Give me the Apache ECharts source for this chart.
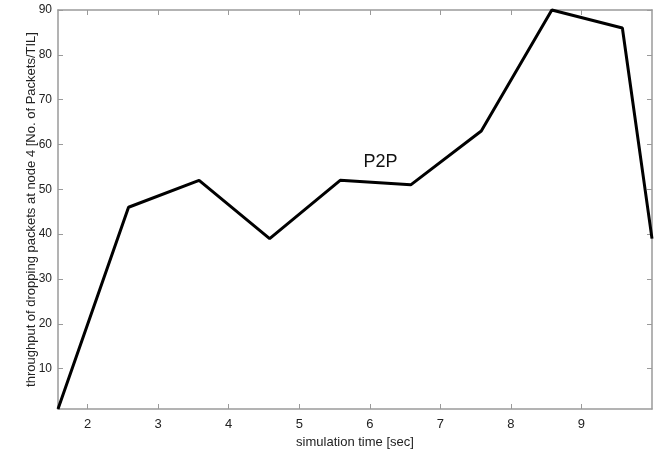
<!DOCTYPE html>
<html>
<head>
<meta charset="utf-8">
<style>
  html, body { margin: 0; padding: 0; background: #fff; }
  #chart { width: 664px; height: 454px; }
</style>
<script src="https://cdn.jsdelivr.net/npm/echarts@6/dist/echarts.min.js"></script>
</head>
<body>
<div id="chart"></div>
<script>
// data
const simTime = [1.58, 2.58, 3.58, 4.58, 5.58, 6.58, 7.58, 8.58, 9.58, 10];
const throughput = [1, 46, 52, 39, 52, 51, 63, 90, 86, 39];
const xTicks = [2, 3, 4, 5, 6, 7, 8, 9];
const yTicks = [10, 20, 30, 40, 50, 60, 70, 80, 90];

const axisColor = '#9a9a9a';
const textColor = '#222';
const font = 'Liberation Sans, Arial, sans-serif';

const chart = echarts.init(document.getElementById('chart'));

// shared look for the box axes
const boxAxis = (extra) => ({
    type: 'value',
    axisLine: { show: true, lineStyle: { color: axisColor, width: 1.5 } },
    axisTick: { show: true, inside: true, length: 5, lineStyle: { color: axisColor } },
    splitLine: { show: false },
    ...extra
});

chart.setOption({
    animation: false,
    textStyle: { fontFamily: font },
    grid: { left: 58, right: 12, top: 10, bottom: 45 },
    xAxis: [
        boxAxis({
            min: 1.58, max: 10,
            name: 'simulation time [sec]',
            nameLocation: 'middle',
            nameGap: 24,
            nameTextStyle: { color: textColor, fontSize: 13 },
            axisTick: { show: true, inside: true, length: 5, lineStyle: { color: axisColor }, customValues: xTicks },
            axisLabel: { color: textColor, fontSize: 13, margin: 9, customValues: xTicks }
        }),
        boxAxis({
            position: 'top', min: 1.58, max: 10,
            axisTick: { show: true, inside: true, length: 5, lineStyle: { color: axisColor }, customValues: xTicks },
            axisLabel: { show: false }
        })
    ],
    yAxis: [
        boxAxis({
            min: 1, max: 90,
            name: 'throughput of dropping packets at node 4 [No. of Packets/TIL]',
            nameLocation: 'middle',
            nameGap: 20,
            nameMoveOverlap: false,
            nameTextStyle: { color: textColor, fontSize: 13 },
            axisTick: { show: true, inside: true, length: 5, lineStyle: { color: axisColor }, customValues: yTicks },
            axisLabel: { color: textColor, fontSize: 12, margin: 6, customValues: yTicks }
        }),
        boxAxis({
            position: 'right', min: 1, max: 90,
            axisTick: { show: true, inside: true, length: 5, lineStyle: { color: axisColor }, customValues: yTicks },
            axisLabel: { show: false }
        })
    ],
    series: [{
        type: 'line',
        data: simTime.map((t, i) => [t, throughput[i]]),
        symbol: 'none',
        clip: false,
        lineStyle: { color: '#000', width: 3 },
        markPoint: {
            symbol: 'circle',
            symbolSize: 0,
            data: [{ coord: [6.15, 56] }],
            label: {
                show: true,
                formatter: 'P2P',
                position: 'inside',
                color: '#111',
                fontSize: 18,
                fontFamily: font
            }
        }
    }]
});
</script>
</body>
</html>
